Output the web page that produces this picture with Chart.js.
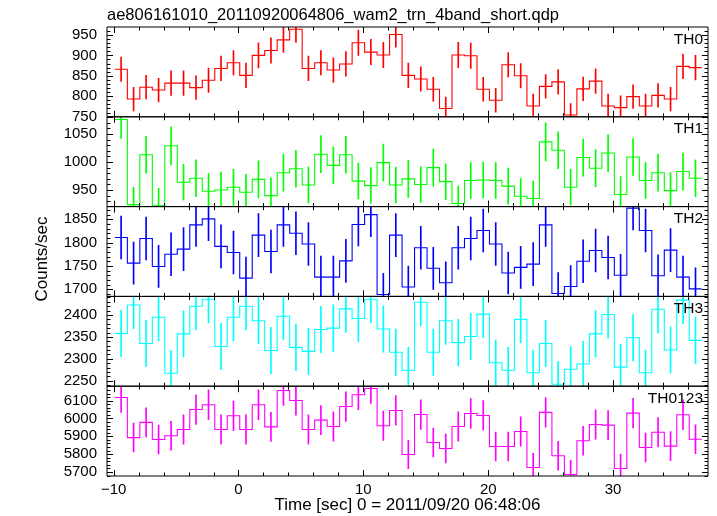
<!DOCTYPE html>
<html><head><meta charset="utf-8">
<script src="https://cdn.jsdelivr.net/npm/chart.js@4/dist/chart.umd.min.js"></script>
<style>html,body{margin:0;padding:0;background:#fff;}#wrap{width:717px;height:516px;}</style>
</head><body><div id="wrap"><canvas id="c" width="717" height="516"></canvas></div>
<script>
const TITLE = "ae806161010_20110920064806_wam2_trn_4band_short.qdp";
const X_TITLE = "Time [sec] 0 = 2011/09/20 06:48:06";
const Y_TITLE = "Counts/sec";
const PANEL_NAMES = ["TH0", "TH1", "TH2", "TH3", "TH0123"];

const TIME = [-9.4, -8.4, -7.4, -6.4, -5.4, -4.4, -3.4, -2.4, -1.4, -0.4, 0.6, 1.6, 2.6, 3.6, 4.6, 5.6, 6.6, 7.6, 8.6, 9.6,
  10.6, 11.6, 12.6, 13.6, 14.6, 15.6, 16.6, 17.6, 18.6, 19.6, 20.6, 21.6, 22.6, 23.6, 24.6, 25.6, 26.6, 27.6, 28.6, 29.6,
  30.6, 31.6, 32.6, 33.6, 34.6, 35.6, 36.6];
const BIN_WIDTH = 1.0;

const TH0 = [866, 793, 822, 815, 832, 832, 821, 839, 868, 882, 851, 900, 912, 938, 964, 868, 882, 864, 879, 931, 908, 901, 951, 851, 842, 817, 770, 901, 899, 817, 790, 877, 850, 776, 824, 835, 754, 818, 837, 776, 772, 799, 776, 802, 793, 873, 870];
const TH0_ERR = [30, 29, 29, 29, 30, 30, 29, 30, 30, 30, 30, 31, 31, 31, 32, 30, 30, 30, 30, 31, 31, 31, 31, 30, 30, 29, 28, 31, 31, 29, 29, 30, 30, 29, 29, 30, 28, 29, 30, 29, 29, 29, 29, 29, 29, 30, 30];

const TH1 = [1076, 924, 1013, 922, 1029, 964, 971, 948, 950, 955, 946, 969, 940, 981, 988, 959, 1014, 994, 1013, 966, 958, 999, 959, 970, 960, 990, 965, 926, 967, 968, 967, 957, 939, 935, 1036, 1021, 955, 1008, 989, 1016, 942, 1009, 967, 981, 949, 983, 971];
const TH1_ERR = [34, 31, 33, 31, 34, 32, 33, 32, 32, 32, 32, 33, 32, 33, 33, 32, 33, 33, 33, 32, 32, 33, 32, 33, 32, 33, 32, 31, 32, 32, 32, 32, 32, 31, 34, 33, 32, 33, 33, 33, 32, 33, 32, 33, 32, 33, 33];

const TH2 = [1811, 1756, 1809, 1749, 1775, 1786, 1838, 1851, 1792, 1779, 1724, 1816, 1781, 1838, 1820, 1797, 1726, 1726, 1761, 1839, 1860, 1689, 1816, 1705, 1789, 1745, 1714, 1789, 1809, 1826, 1797, 1735, 1747, 1754, 1838, 1691, 1706, 1760, 1783, 1768, 1730, 1874, 1826, 1729, 1784, 1726, 1701];
const TH2_ERR = [46, 45, 46, 45, 46, 46, 46, 47, 46, 46, 45, 46, 46, 46, 46, 46, 45, 45, 46, 46, 47, 45, 46, 45, 46, 45, 45, 46, 46, 46, 46, 45, 45, 46, 46, 45, 45, 46, 46, 46, 45, 47, 46, 45, 46, 45, 45];

const TH3 = [2358, 2423, 2335, 2395, 2267, 2357, 2420, 2436, 2328, 2395, 2420, 2387, 2319, 2397, 2326, 2317, 2367, 2370, 2414, 2392, 2436, 2368, 2315, 2274, 2429, 2315, 2387, 2337, 2351, 2402, 2291, 2274, 2390, 2268, 2335, 2242, 2276, 2288, 2357, 2401, 2281, 2348, 2268, 2413, 2320, 2434, 2342];
const TH3_ERR = [53, 54, 53, 54, 52, 53, 54, 54, 53, 54, 54, 53, 53, 54, 53, 53, 53, 53, 54, 53, 54, 53, 53, 52, 54, 53, 54, 53, 53, 54, 52, 52, 54, 52, 53, 52, 52, 52, 53, 54, 52, 53, 52, 54, 53, 54, 53];

const TH0123 = [6118, 5893, 5978, 5882, 5903, 5938, 6050, 6077, 5938, 6015, 5938, 6077, 5953, 6157, 6101, 5938, 5991, 5955, 6067, 6133, 6168, 5959, 6045, 5798, 6022, 5865, 5832, 5955, 6028, 6017, 5843, 5843, 5927, 5725, 6034, 5791, 5686, 5875, 5966, 5963, 5720, 6030, 5837, 5923, 5845, 6021, 5884];
const TH0123_ERR = [84, 81, 82, 81, 81, 82, 83, 83, 82, 83, 82, 83, 82, 84, 83, 82, 82, 82, 83, 84, 84, 82, 83, 80, 83, 81, 81, 82, 83, 83, 81, 81, 82, 80, 83, 81, 80, 81, 82, 82, 80, 83, 81, 82, 81, 83, 81];

const X_TICKS = [-10, 0, 10, 20, 30];
const TH0_TICKS = [750, 800, 850, 900, 950];
const TH1_TICKS = [950, 1000, 1050];
const TH2_TICKS = [1700, 1750, 1800, 1850];
const TH3_TICKS = [2250, 2300, 2350, 2400];
const TH0123_TICKS = [5700, 5800, 5900, 6000, 6100];

// panel styling / ranges
const X_RANGE = [-10.53, 37.6];
const PANELS = [
  {id: 'y0', name: PANEL_NAMES[0], vals: TH0, errs: TH0_ERR, ticks: TH0_TICKS, min: 749.5, max: 969.5, minor: 10, color: '#ff0000'},
  {id: 'y1', name: PANEL_NAMES[1], vals: TH1, errs: TH1_ERR, ticks: TH1_TICKS, min: 920.5, max: 1080.7, minor: 10, color: '#00ff00'},
  {id: 'y2', name: PANEL_NAMES[2], vals: TH2, errs: TH2_ERR, ticks: TH2_TICKS, min: 1684.8, max: 1877.2, minor: 10, color: '#0000ff'},
  {id: 'y3', name: PANEL_NAMES[3], vals: TH3, errs: TH3_ERR, ticks: TH3_TICKS, min: 2237.4, max: 2442.5, minor: 10, color: '#00ffff'},
  {id: 'y4', name: PANEL_NAMES[4], vals: TH0123, errs: TH0123_ERR, ticks: TH0123_TICKS, min: 5677.6, max: 6181, minor: 20, color: '#ff00ff'}
];

const FONT = "'Liberation Sans', Arial, Helvetica, sans-serif";

const datasets = [];
PANELS.forEach(p => {
  const steps = TIME.map((t, i) => ({x: t - BIN_WIDTH / 2, y: p.vals[i]}));
  steps.push({x: TIME[TIME.length - 1] + BIN_WIDTH / 2, y: p.vals[p.vals.length - 1]});
  datasets.push({
    type: 'line', data: steps, xAxisID: 'x', yAxisID: p.id, stepped: true,
    borderColor: p.color, borderWidth: 1.1, pointRadius: 0, fill: false, clip: 0
  });
  datasets.push({
    type: 'bar', data: TIME.map((t, i) => ({x: t, y: [p.vals[i] - p.errs[i], p.vals[i] + p.errs[i]]})),
    xAxisID: 'x', yAxisID: p.id, grouped: false, barThickness: 1,
    backgroundColor: p.color, borderWidth: 0, clip: 0
  });
});

const scales = {
  x: {
    type: 'linear', min: X_RANGE[0], max: X_RANGE[1], position: 'bottom', offset: false,
    grid: {display: false, drawTicks: false, offset: false}, border: {display: false},
    afterBuildTicks: s => { s.ticks = X_TICKS.map(v => ({value: v})); },
    afterFit: s => { s.height = 40; },
    ticks: {autoSkip: false, maxRotation: 0, padding: 5, color: '#000', font: {family: FONT, size: 15},
      callback: v => String(v).replace('-', '\u2212')},
    title: {display: true, text: X_TITLE, color: '#000', font: {family: FONT, size: 17}, padding: {top: 0, bottom: 0}}
  }
};
// left stacked axes: later-defined ones go on top, so define bottom panel first
[...PANELS].reverse().forEach(p => {
  scales[p.id] = {
    type: 'linear', position: 'left', stack: 'panels', stackWeight: 1, min: p.min, max: p.max,
    beginAtZero: false,
    grid: {display: false, drawTicks: false}, border: {display: false},
    afterBuildTicks: s => { s.ticks = p.ticks.map(v => ({value: v})); },
    afterFit: s => { s.width = 107; },
    ticks: {autoSkip: false, padding: 10, color: '#000', font: {family: FONT, size: 15},
      callback: v => String(v)}
  };
});

const framePlugin = {
  id: 'frame',
  afterDatasetsDraw(chart) {
    const ctx = chart.ctx;
    const xs = chart.scales.x;
    const L = chart.chartArea.left, R = chart.chartArea.right;
    ctx.save();
    ctx.strokeStyle = '#000';
    ctx.lineWidth = 1;
    PANELS.forEach(p => {
      const ys = chart.scales[p.id];
      const T = ys.top, B = ys.bottom;
      ctx.beginPath();
      ctx.rect(L, T, R - L, B - T);
      ctx.stroke();
      ctx.beginPath();
      // y ticks
      const start = Math.ceil(p.min / p.minor) * p.minor;
      for (let v = start; v <= p.max; v += p.minor) {
        const y = Math.round(ys.getPixelForValue(v)) + 0.5;
        const len = p.ticks.includes(v) ? 6 : 3.5;
        ctx.moveTo(L, y); ctx.lineTo(L + len, y);
        ctx.moveTo(R, y); ctx.lineTo(R - len, y);
      }
      // x ticks
      for (let v = -10; v <= X_RANGE[1]; v += 2) {
        const x = Math.round(xs.getPixelForValue(v)) + 0.5;
        const len = (v % 10 === 0) ? 6 : 3.5;
        ctx.moveTo(x, T); ctx.lineTo(x, T + len);
        ctx.moveTo(x, B); ctx.lineTo(x, B - len);
      }
      ctx.stroke();
      // panel name
      ctx.fillStyle = '#000';
      ctx.font = '15.5px ' + FONT;
      ctx.textAlign = 'right';
      ctx.textBaseline = 'alphabetic';
      ctx.fillText(p.name, R - 5, T + 16.5);
    });
    // title
    ctx.font = '16.5px ' + FONT;
    ctx.textAlign = 'left';
    ctx.textBaseline = 'alphabetic';
    ctx.fillText(TITLE, 107, 20);
    // y title
    ctx.font = '17px ' + FONT;
    ctx.translate(47, 259);
    ctx.rotate(-Math.PI / 2);
    ctx.textAlign = 'center';
    ctx.textBaseline = 'alphabetic';
    ctx.fillText(Y_TITLE, 0, 0);
    ctx.restore();
  }
};

new Chart(document.getElementById('c'), {
  type: 'line',
  data: {datasets},
  options: {
    responsive: false, animation: false, events: [],
    layout: {padding: {top: 27, right: 9, left: 0, bottom: 0}},
    plugins: {legend: {display: false}, tooltip: {enabled: false}, title: {display: false}},
    scales
  },
  plugins: [framePlugin]
});
</script></body></html>
